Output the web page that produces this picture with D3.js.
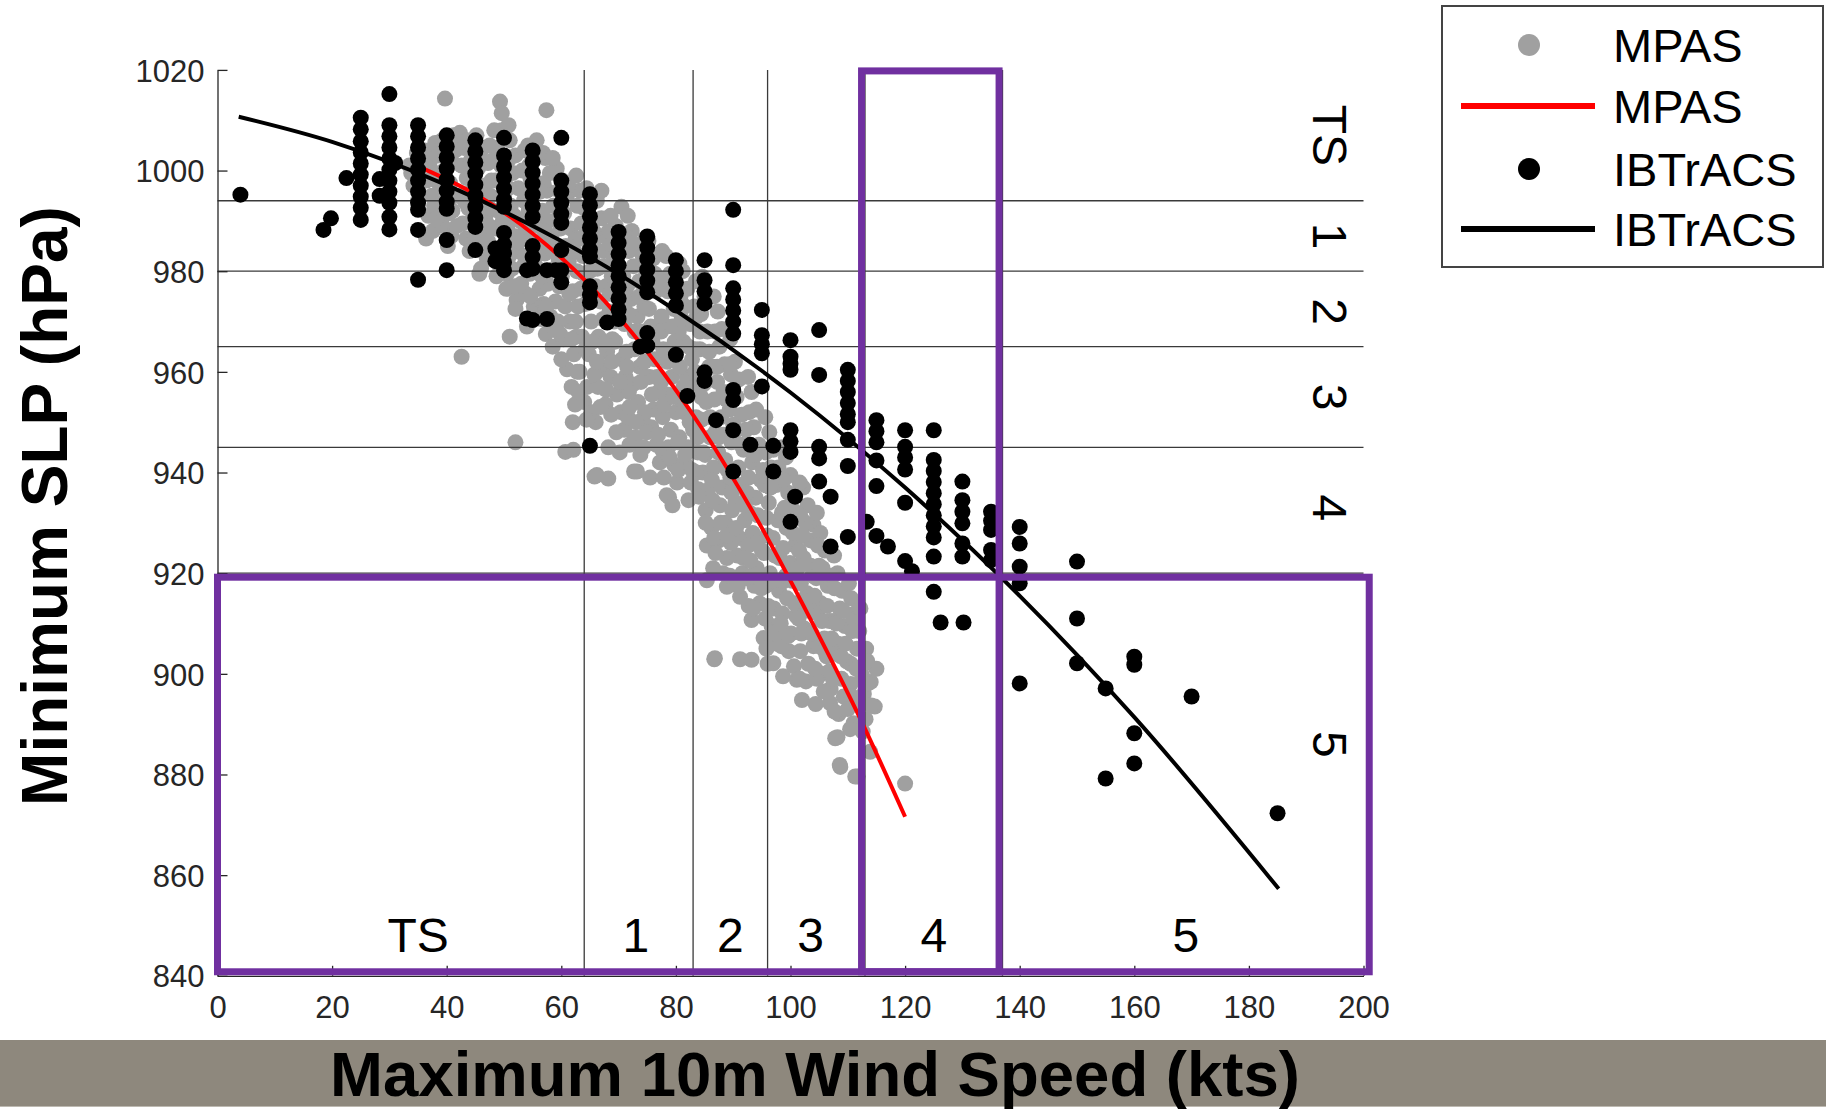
<!DOCTYPE html>
<html><head><meta charset="utf-8">
<script src="https://cdn.jsdelivr.net/npm/d3@7"></script>
<style>html,body{margin:0;padding:0;background:#fff;}svg{display:block;font-family:"Liberation Sans",Arial,Helvetica,sans-serif;}</style>
</head><body><svg id="chart" width="1826" height="1111"></svg>
<script>
// ---------- data ----------
const xTicks = [0,20,40,60,80,100,120,140,160,180,200];
const yTicks = [840,860,880,900,920,940,960,980,1000,1020];
const windBounds = [64,83,96,113,137];
const slpBounds = [994,980,965,945,920];
const bottomLabels = ["TS","1","2","3","4","5"];
const bottomLabelWind = [35,73,89.5,103.5,125,169];
const sideLabels = ["TS","1","2","3","4","5"];
const sideLabelSLP = [1007,987,972,955,933,886];
// highlight boxes: [wind0, wind1, slp0, slp1]
const highlightBoxes = [[0,201,840.8,919.2],[112.4,136.4,840.8,1019.8]];
const legendNames = ["MPAS","MPAS","IBTrACS","IBTrACS"];
const xTitle = "Maximum 10m Wind Speed (kts)";
const yTitle = "Minimum SLP (hPa)";

const mpasFit = [[35.9,1000.4],[45,995.3],[55,987.5],[65,977.2],[75,964.0],[85,948.0],[95,929.0],[105,907.5],[112,891.5],[120,871.6]];
const ibtracsFit = [[3.7,1010.7],[20,1005.7],[40,997.1],[60,986.0],[80,972.2],[100,955.9],[120,937.0],[140,915.5],[160,891.4],[185.2,857.3]];

const mpasPoints = [
[33.5,1001],[34.2,997],[35,994],[34.8,1003.5],[33.8,999.5],
[36.2,1004],[37,1001.5],[36.5,998],[37.4,995],[36.8,991],[37.6,988],[36.4,986.5],[38,1005.5],[37.8,993],
[39.2,1006],[40,1003],[39.5,1000],[40.6,997.5],[39.8,994],[40.4,991.5],[39.3,989],[40.8,987],[41.2,1007],[41,1001.5],[40.2,985],[39.7,1014.3],
[42.3,1007.5],[43,1004.5],[42.6,1001],[43.5,998.5],[42.2,995],[43.8,992.5],[42.8,989.5],[43.4,986.5],[44,984],[42.6,963],[44.2,1002],[44.4,996],[42.3,1005.4],
[45.2,1007],[46,1004],[45.5,1000.5],[46.5,997],[45.8,994],[46.8,991],[45.3,988],[46.2,985],[47,982.5],[45.7,979.5],[47.2,1001.5],[46.6,988.5],
[48.3,1008],[49.3,1013.7],[49.6,1011.4],[49.6,1008],[48.8,1004.5],[49.5,1001],[48.5,998],[50,995],[49,992],[48.6,988.5],[50.2,985.5],[49.2,982],[48.7,979],[50.4,976.5],[47.9,983.5],
[51,1006],[52,1003],[51.5,999.5],[52.5,996.5],[51.2,993],[52.8,990],[51.7,987],[52.3,984],[51.4,980.5],[53,977.5],[52.2,974.3],[51,967],[53.2,1000],[52,972.5],[52,946],
[54.2,1005],[55.7,1006],[55,1002],[54.6,998.5],[55.5,995.5],[54.3,992],[56,989],[54.8,986],[55.6,983],[54.5,979.5],[56.2,976.5],[55.2,973],[56.5,970.5],[54,969],
[57.4,1012],[57.2,1002.5],[58,999.5],[57.5,996],[58.6,993],[57.8,990],[58.3,987],[57.1,983.5],[58.8,980.5],[57.6,977.5],[59,974],[58.1,971],[57.3,967.5],[59.2,1000.4],[58.5,965],
[60.2,998],[61,995],[60.5,991.5],[61.6,988.5],[60.8,985],[61.3,982],[60.1,979],[62,976],[60.7,973],[61.5,970],[60.4,966.5],[62.2,963.5],[61,960.5],[60.7,944.1],[62,950],[61.8,957],[62.1,944.5],
[63.2,996],[64.4,996.5],[64,992.5],[63.5,989.5],[64.6,986],[63.8,983],[65,980],[63.4,976.5],[64.2,973.5],[65.2,970],[63.6,967],[64.8,963.5],[63.2,960],[64.5,957],[65.8,939.2],[64,954],
[66.2,994],[67,990.5],[66.6,987],[67.5,984],[66.3,980.5],[67.8,977],[66.8,974],[67.3,970.5],[66.5,967],[68,964],[67.1,960.5],[66.4,957],[67.7,953.5],[68.2,945],[66,950],[66.2,939.5],[68.2,938.8],
[70.5,992.8],[69.5,989],[70.3,986],[69.2,982.5],[70.8,979],[69.8,976],[70.2,972.5],[71,969.5],[69.4,966],[70.6,962.5],[71.2,959],[69.7,955.5],[70.4,952],[71,948.5],[70.2,944],
[72.7,940.2],[72.3,988],[73,984.5],[72.6,981],[73.6,978],[72.2,974.5],[73.3,971],[74,968],[72.8,964.5],[73.7,961],[72.5,957.5],[73.4,954],[74.2,950.5],[72.9,947],[73.8,943.5],[73.2,940.2],
[75.2,986],[76,982.5],[75.6,979],[76.5,976],[75.3,972.5],[76.8,969],[75.9,966],[76.3,962.5],[75.4,959],[77,956],[76.1,952.5],[75.7,949],[76.6,945.5],[77.2,942],[75.5,939],
[78.4,935.5],[78.8,935.1],[79.4,933.5],[78.3,983],[79,979.5],[78.6,976],[79.6,972.5],[78.2,969],[79.8,966],[78.9,962.5],[79.3,959],[78.5,955.5],[80,952],[79.1,948.5],[78.7,945],[79.7,941.5],[80.2,938],
[81.2,980],[82,976.5],[81.6,973],[82.5,969.5],[81.3,966],[82.8,962.5],[81.9,959],[82.3,955.5],[81.4,952],[83,948.5],[82.1,945],[81.7,941.5],[82.6,938],[83.9,936.7],[82.2,934.5],
[84.6,978.9],[85,975],[84.4,971.5],[85.5,968],[84.2,964.5],[85.8,961],[84.8,957.5],[85.3,954],[84.5,950.5],[86,947],[85.1,943.5],[84.7,940],[85.6,936.5],[84,935.2],[85.2,932.5],[86.2,929],[85.4,925.5],[85.4,918.6],[86.7,902.9],[86.8,903.1],
[87.3,972],[88,968.5],[87.6,965],[88.5,961.5],[87.2,958],[88.8,954.5],[87.9,951],[88.3,947.5],[87.4,944],[89,940.5],[88.1,937],[87.7,933.5],[88.6,930],[87.5,926.5],[88.9,923],[88.9,917.3],[88.2,920],
[90.3,962],[91,958.5],[90.6,955],[91.5,951.5],[90.2,948],[91.8,944.5],[90.9,941],[91.3,937.5],[90.4,934],[92,930.5],[91.1,927],[90.7,923.5],[91.6,920],[91.2,915.3],[91.2,902.9],
[93.2,956],[94,952.5],[93.6,949],[94.5,945.5],[93.3,942],[94.8,938.5],[93.9,935],[94.3,931.5],[93.4,928],[95,924.5],[94.1,921],[93.7,917.5],[94.6,914],[93.2,910.7],[95.3,907.1],[93.2,902.8],
[96.3,948],[97,944.5],[96.6,941],[97.5,937.5],[96.2,934],[97.8,930.5],[96.9,927],[97.3,923.5],[96.4,920],[98,916.5],[97.1,913],[96.7,909.5],[97.6,906],[97,902.1],[96,902],
[99.2,943],[100,939.5],[99.6,936],[100.5,932.5],[99.3,929],[100.8,925.5],[99.9,922],[100.3,918.5],[99.4,915],[101,911.5],[100.1,908],[99.7,904.5],[101.1,898.8],[100.6,901.5],
[102.2,937],[103,933.5],[104,929.6],[102.6,930],[103.5,926.5],[102.3,923],[103.8,919.5],[102.9,916],[103.3,912.5],[102.4,909],[104,905.5],[103.1,902],[102,894.8],[102.7,898.5],
[105.2,928],[106,924.5],[105.6,921],[106.5,917.5],[105.3,914],[106.8,910.5],[105.9,907],[106.3,903.5],[105.4,900],[106.9,894.2],[107,897],[105.8,896.5],
[108.2,920],[109,916.5],[108.6,913],[109.5,909.5],[108.3,906],[109.8,902.5],[108.9,899],[109.3,895.5],[108.4,892],[107.8,887.2],[108.7,881.5],[108.2,887.4],[108.6,881.9],[110.5,898],
[111.2,912],[112,908.5],[111.6,905],[112.5,901.5],[112.5,899.7],[111,890.2],[111.3,879.6],[111.7,879.6],[111,910.7],[112.8,896],
[114,898.4],[114.7,893.5],[113.9,884.5],[114.1,893.7],[115,901],
[120,878.2],
[38.5,1003],[38.8,997],[38.2,990.5],[41.5,995],[41.8,989],
[44.6,1005],[44.8,999],[44.5,990],[44.9,987],[47.5,1005],[47.6,995],[47.4,989],[47.2,986],
[50.8,1009],[50.7,1002],[50.6,989],[50.9,983],[53.6,1004],[53.5,994],[53.7,988],[53.4,981],[53.8,975.5],
[56.8,1003.5],[56.9,997.5],[56.7,992],[56.8,985],[56.6,979],[56.9,973.5],[59.6,996],[59.7,991],[59.5,985],[59.6,977],[59.4,970],[59.8,967.5],
[62.6,999],[62.8,993],[62.5,986.5],[62.7,980],[62.9,973],[62.6,967],[62.8,960],[62.4,953.5],[65.5,994],[65.6,988],[65.4,982.5],[65.7,975],[65.5,966],[65.8,959.5],[65.3,952],
[68.6,991],[68.5,985.5],[68.8,979],[68.4,972],[68.9,966.5],[68.6,959],[68.7,951.5],[71.6,991],[71.8,984],[71.5,977],[71.7,971.5],[71.4,964],[71.8,956],[71.6,951],[71.9,945.5],
[74.6,986.5],[74.8,980],[74.5,973],[74.7,966.5],[74.9,959],[74.6,952],[74.4,945],[77.6,984],[77.7,977.5],[77.5,971],[77.8,964.5],[77.4,958],[77.7,951],[77.6,944.5],[77.9,939],
[80.6,981.5],[80.8,975],[80.5,968],[80.7,961],[80.9,954.5],[80.6,947],[80.4,940.5],[83.5,978],[83.6,971],[83.4,964.5],[83.7,957.5],[83.5,951],[83.8,944],[83.6,940],
[86.6,975],[86.8,968],[86.5,961],[86.7,954.5],[86.9,948],[86.6,941],[86.4,934.5],[86.7,927],[86.5,921],[89.5,966.5],[89.6,959.5],[89.4,952.5],[89.7,946],[89.5,939],[89.8,932.5],[89.6,926],[89.4,919.5],
[92.6,959],[92.8,952],[92.5,945.5],[92.7,939],[92.9,932],[92.6,925.5],[92.4,919],[92.7,913.5],[95.6,951],[95.7,944],[95.5,937.5],[95.8,931],[95.4,924],[95.7,917.5],[95.6,911],[95.8,905],
[98.6,945],[98.8,938.5],[98.5,932],[98.7,925],[98.9,918.5],[98.6,912],[98.4,905.5],[98.7,899.5],[101.6,938],[101.7,931.5],[101.5,924.5],[101.8,918],[101.4,911],[101.7,904.5],[101.6,899],
[104.6,932],[104.8,925.5],[104.5,919],[104.7,912],[104.9,905.5],[104.6,899],[104.4,894],[107.6,923.5],[107.7,917],[107.5,910.5],[107.8,904],[107.4,899],[107.7,892.5],
[110.6,915],[110.8,908.5],[110.5,902],[110.7,895.5],[110.4,889],[113.2,905],[113.4,898],[113.1,891],
[38,999.5],[39,992.5],[41,992],[41.5,1004],[43.2,993.8],[43.6,1006],[45,991.5],[46,980.5],[47.5,992.5],[47.8,998],[48,1002],
[49.8,990],[50.8,996.5],[50.5,979.5],[51.8,991],[51.8,977],[52.6,986],[53.3,996],[53.6,983],[54.4,1001],[54.6,975],[55.8,992],[55.9,980.5],[56.3,995.8],[57,988],[57.3,973],[58.2,984.5],[58.9,968.5],[58.5,1002.5],
[59.5,982.5],[59.9,988.5],[60,962.5],[61.2,997],[61.4,975.5],[61.8,966.5],[62.3,984],[62.5,970],[63,956],[63.4,986.5],[63.9,979.5],[64.2,964.5],[64.4,950.5],[65.3,990.5],[65.6,985],[66,977],[66.2,962],[66.8,953],[67,996],[67.3,981],[67.6,965.5],[67.8,956.5],[68.3,988],[68.5,975.5],[68.8,962],
[69.2,970],[69.6,948],[69.9,980],[70.2,958],[71.2,987],[71.3,974],[71.5,961],[71.9,953],[72.5,985.5],[72.8,968],[73.1,950],[73.6,975],[73.9,958],[74.2,983],[74.5,962],[74.9,948],[75.6,969],[75.8,955.5],[76.3,979.5],[76.7,959],[76.9,947.5],[77.4,968],[77.9,953.5],[78.2,978.5],[78.5,962],[78.9,943],[79.4,969],[79.6,955],[80,977.5],[80.3,946],
[81,970.5],[81.3,957],[81.6,943.5],[82.2,965],[82.4,950],[82.8,940.5],[83.2,973],[83.3,960],[83.8,947],[84.2,968],[84.4,955],[84.8,944],[85.2,930],[85.8,964],[86,951],[86.3,938.5],[86.9,924],[87.2,961],[87.5,947],[87.8,930],[88.3,956],[88.6,942.5],[88.9,927.5],[89.4,961.5],[89.7,936],[90,949.5],[90.5,929],[90.8,917.5],[91.4,945.5],[91.9,933.5],[91.8,923],
[92.2,948.5],[92.4,936],[93,922.5],[93.5,913],[93.9,943.5],[94.2,926],[94.9,917],[95.2,940.5],[95.9,927.5],[96.1,913.5],[96.5,937],[97,918.5],[97.4,908],[97.9,941],[98.1,923],[98.3,910],[99,933],[99.2,919.5],[99.6,907.5],[100.4,928],[100.7,914],[101.3,921],[101.9,908],[102.1,927.5],[102.8,913.5],[103.5,921.5],[103.7,908],[104.2,915.5],[104.3,901],
[105,921.5],[105.5,910.5],[106,904.5],[106.4,913.5],[106.8,900.5],[107.2,907],[107.3,919.5],[108,910],[108.8,903.5],[109.2,912.5],[109.6,906],[110,893],[110.2,918],[111.5,901],[111.9,894],[112.2,913],[112.6,888.5],[113.4,902.5]
];

const ibtracsPoints = [
[4,995.2],[18.5,988.2],[19.8,990.5],[22.5,998.5],
[25,1010.5],[25,1008.2],[25,1005.8],[25,1003.6],[25,1001.4],[25,999.2],[25,997],[25,994.8],[25,992.6],[25,990.2],
[28.3,998.3],[28.3,995],[31,1001.5],
[30,1015.2],[30,1009],[30,1006.8],[30,1004.6],[30,1002.4],[30,1000.2],[30,998],[30,995.8],[30,993.6],[30,990.8],[30,988.3],
[35,1009],[35,1006.8],[35,1004.6],[35,1002.4],[35,1000.2],[35,998],[35,995.8],[35,993.6],[35,992.2],[35,988.2],[35,978.3],
[40,1007],[40,1004.8],[40,1002.6],[40,1000.4],[40,998.2],[40,996],[40,993.8],[40,992.4],[40,986.2],[40,980.2],
[45,1006],[45,1003.8],[45,1001.6],[45,999.4],[45,997.2],[45,995],[45,992.8],[45,990.6],[45,988.8],[45,984.2],
[50,1006.5],[50,1003],[50,1000.8],[50,998.6],[50,996.4],[50,994.2],[50,992.8],[50,987.6],[50,985.3],[48.5,984.5],[48.5,982],[50,983.6],[50,981.8],[50,980.2],
[55,1004],[55,1001.8],[55,999.6],[55,997.4],[55,995.2],[55,993],[55,990.8],[55,985],[55,982.8],[55,980.5],[54,980.2],[55,970.3],[54,970.6],[57.5,980.2],[57.5,970.5],
[60,1006.5],[60,998],[60,995.8],[60,993.6],[60,991.4],[60,989.6],[60,984.2],[60,980.2],[59,980.2],[60,977.8],
[65,995.3],[65,993.1],[65,990.9],[65,988.7],[65,986.5],[65,984.3],[65,982.9],[65,977],[65,975.3],[65,973.8],[65,945.3],
[70,987.8],[70,985.6],[70,983.4],[70,981.2],[70,979],[70,976.8],[70,974.6],[70,972.4],[70,970.5],[68,969.8],
[75,986.9],[75,984.7],[75,982.5],[75,980.3],[75,978.1],[75,975.8],[75,967.7],[75,965.2],[73.8,965],
[80,982.2],[80,980],[80,977.8],[80,975.6],[80,973.2],[80,963.4],[82,955.2],
[85,982.2],[85,978.2],[85,976],[85,973.6],[85,959.9],[85,958.2],[87,950.4],
[90,992.2],[90,981.2],[90,976.6],[90,974.4],[90,972.2],[90,970],[90,967.6],[90,956.4],[90,954.4],[90,948.4],[90,940.2],[93,945.5],
[95,972.3],[95,967.3],[95,965.5],[95,963.7],[95,957.1],[97,945.3],[97,940.2],
[100,966.3],[100,963],[100,961.6],[100,960.4],[100,948.4],[100,946.2],[100,944.1],[100.8,935.2],[100,930.2],
[105,968.3],[105,959.4],[105,945.1],[105,942.8],[105,938.2],[107,935.2],[107,925.3],
[110,960.4],[110,958.2],[110,956],[110,953.8],[110,951.6],[110,950],[110,946.5],[110,941.3],[110,927.2],[113.3,930.2],
[115,950.4],[115,948.2],[115,946],[115,942.4],[115,937.3],[115,927.4],[117,925.3],
[120,948.4],[120,945.1],[120,943],[120,940.6],[120,934],[120,922.4],[121.2,920.4],
[125,948.4],[125,942.5],[125,940.3],[125,938.1],[125,935.9],[125,933.7],[125,931.5],[125,929.3],[125,927.1],[125,923.3],[125,916.3],
[126.2,910.2],[130.2,910.2],
[130,938.2],[130,934.5],[130,932.2],[130,929.9],[130,925.9],[130,923.3],
[135,932.2],[135,930.4],[135,928.6],[135,924.6],[135,922.6],
[140,929.2],[140,925.9],[140,921.3],[140,918],[140,898.1],
[150,922.3],[150,911],[150,902.1],[155,897.1],[155,879.2],
[160,903.4],[160,901.8],[160,888.2],[160,882.2],[170,895.5],[185,872.3]
];

// ---------- drawing ----------
const svg = d3.select("#chart");
const W = 1826, H = 1111;
const x = d3.scaleLinear().domain([0,200]).range([217.5,1363.5]);
const y = d3.scaleLinear().domain([840,1020]).range([975.8,69.9]);
const PURPLE = "#7030a0", AXIS = "#262626", GRAY = "#a0a0a0";
const R = 8;

svg.append("rect").attr("width",W).attr("height",H).attr("fill","#fff");

// x title band
svg.append("rect").attr("x",0).attr("y",1040).attr("width",W).attr("height",66).attr("fill","#8e887d");
svg.append("line").attr("x1",0).attr("x2",W).attr("y1",1106.5).attr("y2",1106.5).attr("stroke","#bdb9b1").attr("stroke-width",1);

// MPAS points
svg.append("g").selectAll("circle").data(mpasPoints).join("circle")
  .attr("cx",d=>x(d[0])).attr("cy",d=>y(d[1])).attr("r",R).attr("fill",GRAY);

// category lines
const grid = svg.append("g").attr("stroke","#3a3a3a").attr("stroke-width",1.3);
grid.selectAll("line.h").data(slpBounds).join("line").attr("class","h")
  .attr("x1",x(0)).attr("x2",x(200)).attr("y1",d=>y(d)).attr("y2",d=>y(d));
grid.selectAll("line.v").data(windBounds).join("line").attr("class","v")
  .attr("x1",d=>x(d)).attr("x2",d=>x(d)).attr("y1",y(1020)).attr("y2",y(840));

// MPAS fit
const line = d3.line().x(d=>x(d[0])).y(d=>y(d[1])).curve(d3.curveMonotoneX);
svg.append("path").datum(mpasFit).attr("d",line).attr("fill","none").attr("stroke","#ff0000").attr("stroke-width",4);

// IBTrACS points
svg.append("g").selectAll("circle").data(ibtracsPoints).join("circle")
  .attr("cx",d=>x(d[0])).attr("cy",d=>y(d[1])).attr("r",R).attr("fill","#000");

// IBTrACS fit
svg.append("path").datum(ibtracsFit).attr("d",line).attr("fill","none").attr("stroke","#000").attr("stroke-width",4);

// axes
const fmt = d3.format("d");
const xAxis = d3.axisBottom(x).tickValues(xTicks).tickFormat(fmt).tickSize(-10).tickPadding(0).tickSizeOuter(0);
const gx = svg.append("g").attr("transform",`translate(0,${y(840)})`).call(xAxis);
gx.select(".domain").attr("stroke",AXIS).attr("stroke-width",1.3);
gx.selectAll(".tick line").attr("stroke",AXIS).attr("stroke-width",1.3);
gx.selectAll(".tick text").attr("y",42).attr("dy",0).attr("fill",AXIS)
  .style("font-size","31px").style("font-family","'Liberation Sans',Arial,sans-serif");

const yAxis = d3.axisLeft(y).tickValues(yTicks).tickFormat(fmt).tickSize(-10).tickPadding(0).tickSizeOuter(0);
const gy = svg.append("g").attr("transform",`translate(${x(0)},0)`).call(yAxis);
gy.select(".domain").attr("stroke",AXIS).attr("stroke-width",1.3);
gy.selectAll(".tick line").attr("stroke",AXIS).attr("stroke-width",1.3);
gy.selectAll(".tick text").attr("x",-13).attr("dy","0.36em").attr("fill",AXIS)
  .style("font-size","31px").style("font-family","'Liberation Sans',Arial,sans-serif");

// purple highlight boxes
svg.append("g").selectAll("rect").data(highlightBoxes).join("rect")
  .attr("x",d=>x(d[0])).attr("y",d=>y(d[3]))
  .attr("width",d=>x(d[1])-x(d[0])).attr("height",d=>y(d[2])-y(d[3]))
  .attr("fill","none").attr("stroke",PURPLE).attr("stroke-width",7);

// bottom category labels
svg.append("g").selectAll("text").data(bottomLabels).join("text")
  .attr("x",(d,i)=>x(bottomLabelWind[i])).attr("y",952)
  .attr("text-anchor","middle").style("font-size","48px").attr("fill","#000").text(d=>d);

// side category labels (rotated)
svg.append("g").selectAll("text").data(sideLabels).join("text")
  .attr("transform",(d,i)=>`translate(1330,${y(sideLabelSLP[i])}) rotate(90)`)
  .attr("text-anchor","middle").attr("dy","0.36em")
  .style("font-size","48px").attr("fill","#000").text(d=>d);

// axis titles
svg.append("text").attr("transform","translate(67,506) rotate(-90)")
  .attr("text-anchor","middle").style("font-size","64px").style("font-weight","bold").attr("fill","#000").text(yTitle);
svg.append("text").attr("x",815).attr("y",1096)
  .attr("text-anchor","middle").style("font-size","63.5px").style("font-weight","bold").attr("fill","#000").text(xTitle);

// legend
const lg = svg.append("g");
lg.append("rect").attr("x",1442).attr("y",6).attr("width",381).attr("height",261)
  .attr("fill","#fff").attr("stroke","#444").attr("stroke-width",2);
const rowY = [45,106,169,229];
lg.append("circle").attr("cx",1529).attr("cy",rowY[0]).attr("r",11).attr("fill",GRAY);
lg.append("line").attr("x1",1461).attr("x2",1595).attr("y1",rowY[1]).attr("y2",rowY[1]).attr("stroke","#ff0000").attr("stroke-width",6);
lg.append("circle").attr("cx",1529).attr("cy",rowY[2]).attr("r",11).attr("fill","#000");
lg.append("line").attr("x1",1461).attr("x2",1595).attr("y1",rowY[3]).attr("y2",rowY[3]).attr("stroke","#000").attr("stroke-width",6);
lg.selectAll("text").data(legendNames).join("text")
  .attr("x",1613).attr("y",(d,i)=>rowY[i]).attr("dy","0.36em")
  .style("font-size","47px").attr("fill","#000").text(d=>d);
</script></body></html>
